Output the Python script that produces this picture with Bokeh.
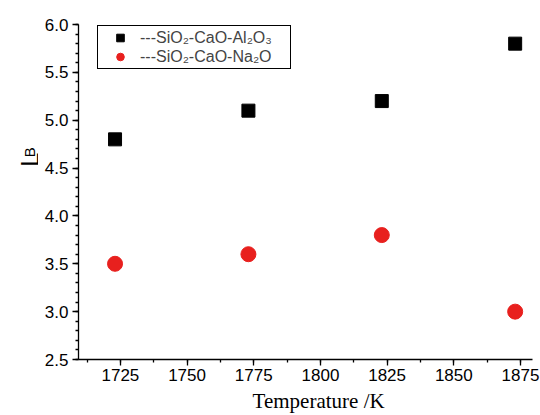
import math
from bokeh.plotting import figure
from bokeh.layouts import row
from bokeh.models import (Range1d, SingleIntervalTicker, Legend, LegendItem, Label,
                          NumeralTickFormatter)
from bokeh.embed import file_html
from bokeh.resources import INLINE

temperature = [1723, 1773, 1823, 1873]
lb_al2o3 = [4.8, 5.1, 5.2, 5.8]
lb_na2o = [3.5, 3.6, 3.8, 3.0]
series_labels = ["---SiO\u2082-CaO-Al\u2082O\u2083", "---SiO\u2082-CaO-Na\u2082O"]
x_label = "Temperature /K"
y_label_main = "L"
y_label_sub = "B"

LABEL_W = 38
H = 415

p = figure(width=540 - LABEL_W, height=H, output_backend="svg", toolbar_location=None,
           x_range=Range1d(1709.3, 1879.5), y_range=Range1d(2.5, 6.0),
           min_border_left=78 - LABEL_W, min_border_right=8, min_border_top=24,
           min_border_bottom=54)
p.background_fill_color = "white"
p.border_fill_color = "white"
p.outline_line_color = None
p.xgrid.visible = False
p.ygrid.visible = False

r1 = p.scatter(temperature, lb_al2o3, marker="square", size=13, fill_color="black",
               line_color="black")
r2 = p.scatter(temperature, lb_na2o, marker="circle", size=15, fill_color="#e8201e",
               line_color="#e8201e")

p.xaxis.ticker = SingleIntervalTicker(interval=25, num_minor_ticks=2)
p.yaxis.ticker = SingleIntervalTicker(interval=0.5, num_minor_ticks=5)
for ax in (p.xaxis[0], p.yaxis[0]):
    ax.axis_line_color = "black"
    ax.axis_line_width = 1.3
    ax.major_tick_line_color = "black"
    ax.minor_tick_line_color = "black"
    ax.major_tick_line_width = 1.3
    ax.minor_tick_line_width = 1.3
    ax.major_tick_in = 0
    ax.major_tick_out = 6
    ax.minor_tick_in = 0
    ax.minor_tick_out = 3
    ax.major_label_text_font = "Liberation Sans"
    ax.major_label_text_font_size = "17px"
    ax.major_label_text_color = "black"
p.xaxis.major_label_standoff = 3
p.yaxis.major_label_standoff = 4
p.yaxis.formatter = NumeralTickFormatter(format="0.0")

# x axis title (non-breaking spaces shift the centred title slightly right, as in the reference)
p.xaxis.axis_label = "\u00a0" * 5 + x_label
p.xaxis.axis_label_text_font = "Liberation Serif"
p.xaxis.axis_label_text_font_style = "normal"
p.xaxis.axis_label_text_font_size = "21px"
p.xaxis.axis_label_text_color = "black"
p.xaxis.axis_label_standoff = 5

legend = Legend(items=[LegendItem(label=series_labels[0], renderers=[r1]),
                       LegendItem(label=series_labels[1], renderers=[r2])],
                location=(19, 290), padding=2, margin=0, spacing=0,
                glyph_width=40, glyph_height=19, label_height=19, label_standoff=0,
                label_width=148,
                label_text_font="Liberation Sans", label_text_font_size="16px",
                border_line_color="black", border_line_width=1.2, border_line_alpha=1.0,
                background_fill_alpha=1.0)
p.add_layout(legend, "center")

# narrow strip on the left, without axes, that carries the y title L_B
# (pixel coordinates, y measured from the bottom)
lab = figure(width=LABEL_W, height=H, output_backend="svg", toolbar_location=None,
             x_range=Range1d(0, LABEL_W), y_range=Range1d(0, H),
             x_axis_location=None, y_axis_location=None,
             min_border=0, min_border_left=0, min_border_right=0,
             min_border_top=0, min_border_bottom=0)
lab.grid.visible = False
lab.outline_line_color = None
lab.background_fill_color = "white"
lab.border_fill_color = "white"
# anchored at the top end of each rotated word (text reads bottom to top)
lab.add_layout(Label(x=29, y=H - 158.5, text=y_label_main, angle=math.pi / 2,
                     text_font="Liberation Sans", text_font_size="26px",
                     text_align="right", text_baseline="alphabetic", text_color="black"))
lab.add_layout(Label(x=29, y=H - 152, text=y_label_sub, angle=math.pi / 2,
                     text_font="Liberation Sans", text_font_size="15px",
                     text_align="right", text_baseline="alphabetic", text_color="black"))

layout = row(lab, p, spacing=0)
open("out.html", "w").write(file_html(layout, INLINE))
